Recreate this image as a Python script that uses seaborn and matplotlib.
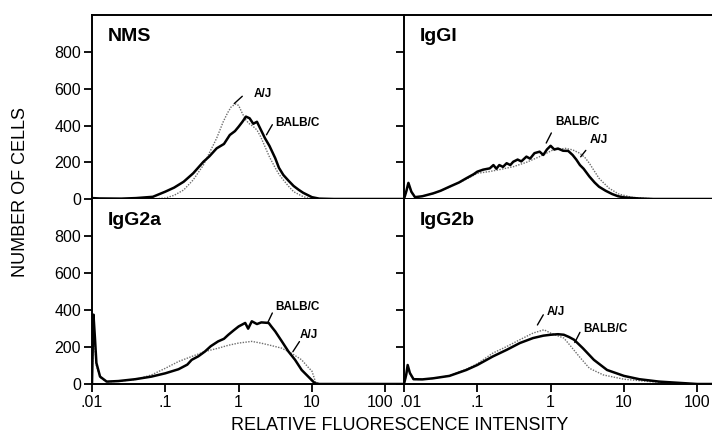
import numpy as np
import pandas as pd
import matplotlib
matplotlib.use('Agg')
import matplotlib.pyplot as plt
import matplotlib.transforms as mtransforms
import seaborn as sns

# x positions are log10(relative fluorescence intensity), y = number of cells
nms_balbc_lx = [-2.0, -1.9, -1.6, -1.4, -1.17, -1.0, -0.88, -0.75, -0.62, -0.48, -0.4, -0.3, -0.2, -0.12, -0.05,
                0.0, 0.05, 0.1, 0.15, 0.2, 0.25, 0.3, 0.36, 0.42, 0.5, 0.55, 0.61, 0.68, 0.75, 0.82, 0.88, 0.95,
                1.0, 1.1, 1.3, 2.25]
nms_balbc = [5, 3, 2, 5, 12, 40, 62, 94, 140, 203, 232, 276, 300, 349, 370,
             394, 420, 449, 440, 410, 421, 380, 331, 290, 222, 170, 131, 100, 71, 50, 34, 20,
             10, 2, 0, 0]
nms_aj_lx = [-2.0, -1.2, -1.0, -0.88, -0.75, -0.62, -0.48, -0.4, -0.3, -0.21, -0.15, -0.1, -0.04, 0.0, 0.05,
             0.1, 0.14, 0.2, 0.25, 0.3, 0.36, 0.42, 0.5, 0.55, 0.61, 0.68, 0.75, 0.82, 0.88, 0.95, 1.0, 2.25]
nms_aj = [0, 0, 5, 20, 49, 104, 185, 250, 331, 421, 470, 503, 518, 510, 467,
          430, 412, 395, 376, 340, 285, 230, 169, 135, 104, 70, 40, 25, 13, 5, 0, 0]

igg1_balbc_lx = [-2.0, -1.97, -1.94, -1.9, -1.85, -1.75, -1.6, -1.5, -1.38, -1.25, -1.15, -1.05, -1.0, -0.92,
                 -0.83, -0.78, -0.74, -0.7, -0.65, -0.6, -0.55, -0.51, -0.45, -0.4, -0.33, -0.28, -0.22, -0.15,
                 -0.1, -0.05, 0.0, 0.05, 0.1, 0.17, 0.24, 0.3, 0.35, 0.4, 0.45, 0.53, 0.6, 0.66, 0.75, 0.84,
                 0.92, 1.0, 1.2, 1.4, 2.25]
igg1_balbc = [0, 40, 88, 40, 10, 15, 31, 45, 67, 90, 113, 135, 149, 160,
              167, 185, 165, 185, 175, 195, 185, 203, 215, 205, 231, 220, 250, 258,
              240, 270, 290, 270, 275, 263, 262, 240, 215, 185, 165, 122, 90, 67, 45, 27,
              15, 9, 3, 0, 0]
igg1_aj_lx = [-2.0, -1.97, -1.94, -1.9, -1.85, -1.75, -1.6, -1.38, -1.15, -1.0, -0.83, -0.7, -0.51, -0.33,
              -0.15, 0.03, 0.2, 0.3, 0.4, 0.47, 0.53, 0.6, 0.66, 0.73, 0.8, 0.93, 1.11, 1.3, 1.5, 2.25]
igg1_aj = [0, 35, 80, 35, 10, 15, 30, 65, 108, 140, 150, 160, 176, 200,
           231, 267, 276, 268, 249, 225, 194, 150, 113, 85, 58, 27, 9, 3, 0, 0]

igg2a_balbc_lx = [-2.0, -1.99, -1.98, -1.96, -1.94, -1.89, -1.8, -1.64, -1.41, -1.19, -1.0, -0.82, -0.7, -0.64,
                  -0.55, -0.46, -0.38, -0.28, -0.2, -0.14, -0.07, 0.0, 0.09, 0.13, 0.18, 0.25, 0.31, 0.41, 0.45,
                  0.5, 0.59, 0.68, 0.77, 0.86, 0.95, 1.04, 1.1, 2.25]
igg2a_balbc = [0, 200, 376, 250, 114, 40, 13, 16, 26, 40, 58, 80, 105, 131,
               150, 176, 205, 231, 245, 267, 290, 312, 331, 300, 340, 325, 334, 331, 310,
               285, 231, 176, 131, 76, 40, 4, 0, 0]
igg2a_aj_lx = [-2.0, -1.99, -1.98, -1.96, -1.94, -1.89, -1.8, -1.64, -1.4, -1.19, -1.0, -0.82, -0.64, -0.46,
               -0.28, -0.14, 0.0, 0.18, 0.3, 0.41, 0.59, 0.72, 0.86, 0.95, 1.0, 1.05, 1.1, 2.25]
igg2a_aj = [0, 150, 300, 200, 100, 35, 12, 15, 25, 49, 85, 122, 149, 176,
            194, 210, 222, 231, 222, 212, 194, 167, 131, 90, 70, 10, 0, 0]

igg2b_balbc_lx = [-2.0, -1.97, -1.95, -1.92, -1.87, -1.75, -1.6, -1.38, -1.15, -1.0, -0.79, -0.6, -0.42, -0.24,
                  -0.1, 0.0, 0.1, 0.18, 0.25, 0.32, 0.44, 0.59, 0.77, 1.0, 1.21, 1.48, 1.8, 2.0, 2.25]
igg2b_balbc = [0, 50, 103, 60, 26, 25, 31, 44, 76, 103, 149, 185, 222, 249,
               262, 267, 270, 267, 255, 240, 194, 131, 76, 44, 26, 13, 5, 0, 0]
igg2b_aj_lx = [-2.0, -1.97, -1.95, -1.92, -1.87, -1.75, -1.6, -1.38, -1.15, -1.0, -0.79, -0.6, -0.42, -0.24,
               -0.09, 0.0, 0.18, 0.26, 0.39, 0.53, 0.72, 1.0, 1.35, 1.8, 2.0, 2.25]
igg2b_aj = [0, 45, 95, 55, 25, 25, 30, 45, 80, 110, 167, 203, 240, 276,
            294, 276, 249, 212, 149, 85, 49, 26, 13, 3, 0, 0]

panel_names = ['NMS', 'IgGI', 'IgG2a', 'IgG2b']
x_ticks = [0.01, 0.1, 1, 10, 100]
x_tick_labels = ['.01', '.1', '1', '10', '100']
y_ticks = [0, 200, 400, 600, 800]

sns.set_style('ticks')
plt.rcParams['font.family'] = ['Liberation Sans', 'DejaVu Sans']
plt.rcParams['text.color'] = 'black'

fig = plt.figure(figsize=(7.12, 4.41), dpi=100)
W, H = 712.0, 441.0
# panel boxes in pixels: left, top, right, bottom
boxes = [(92, 15, 404, 199), (404, 15, 716, 199), (92, 199, 404, 384), (404, 199, 716, 384)]
axes = []
for (l, t, r, b) in boxes:
    axes.append(fig.add_axes([l / W, 1 - b / H, (r - l) / W, (b - t) / H]))

series = [
    (nms_balbc_lx, nms_balbc, nms_aj_lx, nms_aj),
    (igg1_balbc_lx, igg1_balbc, igg1_aj_lx, igg1_aj),
    (igg2a_balbc_lx, igg2a_balbc, igg2a_aj_lx, igg2a_aj),
    (igg2b_balbc_lx, igg2b_balbc, igg2b_aj_lx, igg2b_aj),
]

# annotation (text xy, leader start, leader end) in (log10 x, count)
notes = [
    [('A/J', (0.21, 570), (-0.06, 520), (0.05, 560)),
     ('BALB/C', (0.5, 415), (0.38, 350), (0.46, 405))],
    [('BALB/C', (0.07, 420), (-0.06, 305), (0.01, 360)),
     ('A/J', (0.53, 320), (0.41, 230), (0.48, 265))],
    [('BALB/C', (0.5, 415), (0.4, 335), (0.46, 385)),
     ('A/J', (0.84, 265), (0.74, 175), (0.83, 230))],
    [('A/J', (-0.05, 390), (-0.18, 320), (-0.1, 375)),
     ('BALB/C', (0.45, 300), (0.33, 225), (0.4, 280))],
]

for i, ax in enumerate(axes):
    blx, bv, alx, av = series[i]
    sns.lineplot(x=10 ** np.array(alx), y=av, ax=ax, color='#6e6e6e', lw=1.0,
                 linestyle=(0, (1, 1)), estimator=None, sort=False)
    sns.lineplot(x=10 ** np.array(blx), y=bv, ax=ax, color='black', lw=1.8,
                 estimator=None, sort=False)
    ax.set_xscale('log')
    ax.set_xlim(0.01, 10 ** 2.256)
    ax.set_ylim(0, 1003)
    ax.set_xticks(x_ticks)
    ax.minorticks_off()
    ax.set_yticks(y_ticks)
    ax.tick_params(direction='out', length=6, width=1.3, labelsize=11.5, colors='black', pad=2)
    ax.set_xlabel('')
    ax.set_ylabel('')
    for s in ax.spines.values():
        s.set_linewidth(1.4)
        s.set_color('black')
    ax.spines['right'].set_visible(False)
    if i < 2:
        ax.set_xticklabels([])
        ax.spines['top'].set_visible(True)
    else:
        ax.set_xticklabels(x_tick_labels)
        ax.spines['top'].set_visible(False)
    if i % 2 == 1:
        ax.set_yticklabels([])
    else:
        ax.set_yticklabels([str(v) for v in y_ticks])
    ax.text(0.05, 0.93, panel_names[i], transform=ax.transAxes, fontsize=14,
            fontweight='bold', va='top', ha='left', color='black')
    for label, txy, p0, p1 in notes[i]:
        ax.plot([10 ** p0[0], 10 ** p1[0]], [p0[1], p1[1]], color='black', lw=1)
        ax.text(10 ** txy[0], txy[1], label, fontsize=8.5, fontweight='bold',
                ha='left', va='center', color='black')

# nudge the touching "100" / ".01" labels apart, as in the original
lab = axes[2].get_xticklabels()[-1]
lab.set_transform(lab.get_transform() + mtransforms.ScaledTranslation(-4 / 72, 0, fig.dpi_scale_trans))
lab = axes[3].get_xticklabels()[0]
lab.set_transform(lab.get_transform() + mtransforms.ScaledTranslation(5 / 72, 0, fig.dpi_scale_trans))

fig.text(400 / W, 1 - 425 / H, 'RELATIVE FLUORESCENCE INTENSITY', ha='center', va='center',
         fontsize=13, color='black')
fig.text(21 / W, 1 - 192 / H, 'NUMBER OF CELLS', ha='center', va='center', rotation=90,
         fontsize=13, color='black')

fig.savefig('out.png', dpi=100)
